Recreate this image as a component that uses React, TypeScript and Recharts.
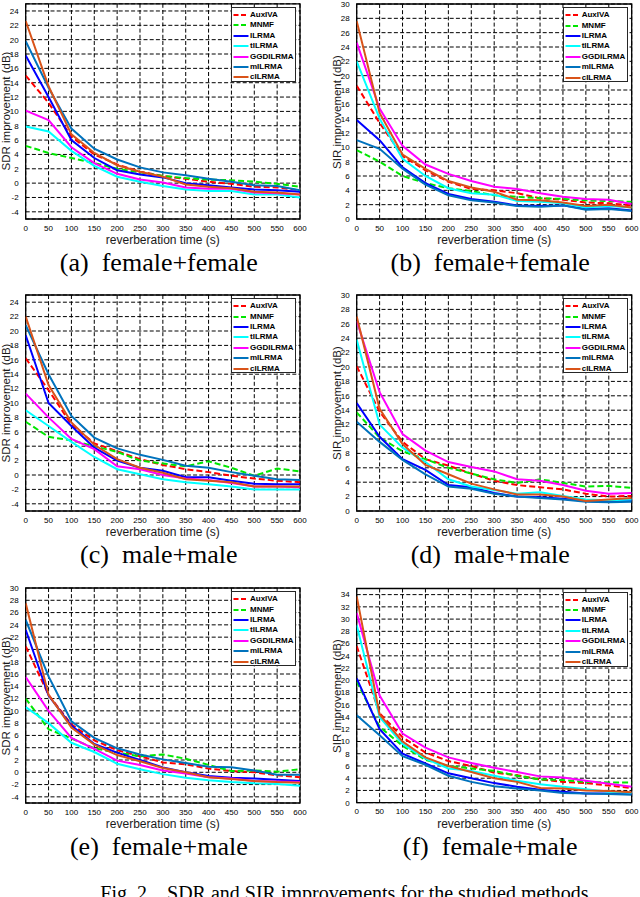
import React from 'react';
import { LineChart, Line, XAxis, YAxis, CartesianGrid, ReferenceArea } from 'recharts';

// ---------- data ----------
const times = [0, 50, 100, 150, 200, 250, 300, 350, 400, 450, 500, 550, 600];
const methods = ['AuxIVA', 'MNMF', 'ILRMA', 'tILRMA', 'GGDILRMA', 'mILRMA', 'cILRMA'];
const methodColors = ['#ff0000', '#00e600', '#0000ff', '#00ffff', '#ff00ff', '#0072bd', '#d95319'];
const methodDashes = ['6 3', '6 3', '', '', '', '', ''];

const sdrTicks = [-4, -2, 0, 2, 4, 6, 8, 10, 12, 14, 16, 18, 20, 22, 24];
const sdrTicksE = [-4, -2, 0, 2, 4, 6, 8, 10, 12, 14, 16, 18, 20, 22, 24, 26, 28, 30];
const sirTicks = [0, 2, 4, 6, 8, 10, 12, 14, 16, 18, 20, 22, 24, 26, 28, 30];
const sirTicksF = [0, 2, 4, 6, 8, 10, 12, 14, 16, 18, 20, 22, 24, 26, 28, 30, 32, 34];

// (a) SDR female+female
const aAuxIVA = [15.0, 11.2, 6.5, 4.0, 2.6, 1.6, 1.0, 0.6, 0.2, -0.1, -0.5, -0.6, -1.0];
const aMNMF = [5.2, 4.2, 3.5, 2.8, 2.0, 1.5, 1.0, 0.7, 0.5, 0.4, 0.2, -0.1, -0.5];
const aILRMA = [17.8, 12.0, 6.0, 3.5, 1.8, 1.2, 0.8, 0.0, -0.3, -0.6, -0.9, -1.0, -1.2];
const atILRMA = [7.9, 7.2, 4.5, 2.4, 0.9, 0.2, -0.4, -0.9, -1.1, -1.1, -1.6, -1.6, -2.0];
const aGGDILRMA = [10.1, 8.8, 5.0, 2.8, 1.3, 0.5, 0.1, -0.6, -0.8, -0.8, -1.3, -1.4, -1.6];
const amILRMA = [19.8, 13.3, 7.6, 4.8, 3.3, 2.2, 1.5, 1.1, 0.6, 0.2, -0.3, -0.4, -1.0];
const acILRMA = [22.6, 13.5, 6.8, 4.2, 2.5, 1.6, 0.9, -0.2, -0.5, -0.7, -1.2, -1.3, -1.6];

// (b) SIR female+female
const bAuxIVA = [18.6, 13.4, 8.8, 6.8, 5.2, 4.2, 4.0, 3.6, 2.9, 2.7, 2.3, 2.2, 1.9];
const bMNMF = [9.6, 8.0, 6.0, 5.0, 4.3, 3.9, 3.3, 3.1, 2.9, 2.8, 2.6, 2.5, 2.4];
const bILRMA = [13.8, 11.0, 7.2, 5.0, 3.5, 2.8, 2.4, 1.9, 1.8, 1.9, 1.4, 1.5, 1.2];
const btILRMA = [22.0, 14.0, 8.4, 6.0, 4.3, 3.6, 3.4, 2.5, 2.4, 2.2, 1.6, 1.8, 1.6];
const bGGDILRMA = [24.6, 15.4, 10.2, 7.6, 6.3, 5.3, 4.5, 4.2, 3.6, 3.1, 2.8, 2.7, 2.1];
const bmILRMA = [11.0, 9.8, 7.0, 4.8, 3.3, 2.6, 2.3, 1.8, 1.7, 1.9, 1.3, 1.4, 1.1];
const bcILRMA = [27.6, 14.8, 9.0, 7.0, 5.3, 4.4, 3.8, 2.7, 2.6, 2.3, 1.8, 2.0, 1.6];

// (c) SDR male+male
const cAuxIVA = [16.2, 11.8, 7.0, 4.4, 3.3, 2.2, 1.4, 0.8, 0.4, -0.1, -0.5, -0.8, -1.0];
const cMNMF = [7.4, 5.3, 4.8, 4.0, 3.2, 2.0, 1.6, 1.2, 1.9, 1.0, -0.1, 0.9, 0.5];
const cILRMA = [19.4, 10.0, 6.8, 3.8, 2.0, 1.0, 0.6, -0.3, -0.3, -0.8, -1.2, -1.3, -1.3];
const ctILRMA = [9.0, 6.8, 4.6, 2.5, 0.8, 0.1, -0.6, -1.0, -1.3, -1.6, -2.0, -2.0, -2.0];
const cGGDILRMA = [11.3, 8.0, 5.0, 3.6, 1.2, 0.8, 0.0, -0.5, -0.7, -1.1, -1.6, -1.6, -1.7];
const cmILRMA = [20.8, 14.0, 8.2, 5.2, 3.7, 2.8, 2.1, 1.3, 1.0, 0.4, -0.1, -0.6, -0.7];
const ccILRMA = [22.0, 12.5, 7.3, 4.2, 2.2, 1.0, 0.3, -0.6, -0.8, -1.0, -1.6, -1.6, -1.6];

// (d) SIR male+male
const dAuxIVA = [20.1, 13.8, 9.6, 7.2, 6.3, 5.2, 4.2, 3.6, 3.3, 3.0, 2.4, 2.0, 2.1];
const dMNMF = [13.7, 10.2, 8.3, 7.2, 6.0, 5.2, 4.4, 3.9, 4.4, 3.9, 3.4, 3.5, 3.2];
const dILRMA = [15.0, 10.3, 7.2, 5.7, 3.6, 3.3, 2.5, 2.0, 1.9, 1.7, 1.4, 1.3, 1.5];
const dtILRMA = [23.8, 12.0, 8.8, 6.8, 4.4, 3.4, 2.9, 2.4, 2.6, 2.1, 1.6, 1.5, 1.6];
const dGGDILRMA = [26.4, 16.5, 10.7, 8.4, 6.8, 6.1, 5.5, 4.4, 4.2, 3.6, 2.8, 2.4, 2.5];
const dmILRMA = [12.4, 9.6, 7.1, 5.1, 3.4, 3.1, 2.4, 2.0, 1.8, 1.6, 1.3, 1.2, 1.3];
const dcILRMA = [27.0, 14.2, 9.3, 6.4, 5.1, 3.8, 3.0, 2.3, 2.3, 2.0, 1.4, 1.6, 1.8];

// (e) SDR female+male
const eAuxIVA = [20.5, 12.6, 7.8, 5.2, 3.6, 2.6, 1.6, 1.3, 0.6, 0.2, 0.0, -0.5, -0.8];
const eMNMF = [12.0, 7.0, 5.5, 3.9, 3.2, 2.6, 2.9, 2.2, 1.2, 0.2, 0.3, 0.1, 0.5];
const eILRMA = [23.2, 12.5, 7.6, 4.6, 3.2, 2.0, 0.8, 0.0, -0.6, -0.9, -1.0, -1.2, -1.4];
const etILRMA = [10.6, 8.0, 4.8, 3.3, 1.4, 0.5, -0.3, -0.9, -1.3, -1.6, -1.8, -1.9, -2.2];
const eGGDILRMA = [15.5, 10.0, 5.6, 3.8, 1.9, 1.2, 0.3, -0.2, -0.8, -1.0, -1.4, -1.5, -1.6];
const emILRMA = [24.8, 15.6, 8.3, 5.6, 3.9, 2.9, 2.1, 1.5, 0.9, 0.8, 0.3, -0.4, -0.4];
const ecILRMA = [27.5, 12.6, 7.3, 4.5, 2.8, 1.8, 0.7, 0.0, -0.8, -1.1, -1.4, -1.6, -1.7];

// (f) SIR female+male
const fAuxIVA = [25.6, 14.6, 10.7, 8.2, 6.8, 6.0, 4.9, 4.5, 3.8, 3.4, 3.2, 2.8, 2.4];
const fMNMF = [19.8, 12.4, 9.3, 7.0, 6.0, 5.6, 5.2, 4.4, 3.8, 3.7, 3.4, 3.3, 3.3];
const fILRMA = [20.3, 12.0, 8.0, 6.4, 4.8, 4.0, 3.2, 2.6, 2.1, 1.8, 1.5, 1.5, 1.4];
const ftILRMA = [29.0, 14.0, 9.6, 7.2, 5.6, 5.2, 4.4, 3.6, 3.0, 2.6, 2.2, 1.8, 1.6];
const fGGDILRMA = [31.0, 17.5, 11.3, 9.0, 7.4, 6.5, 5.7, 5.0, 4.3, 4.1, 3.6, 3.1, 2.6];
const fmILRMA = [14.3, 11.0, 7.6, 6.2, 4.4, 3.4, 2.7, 2.3, 2.0, 1.6, 1.5, 1.4, 1.3];
const fcILRMA = [33.7, 14.4, 10.0, 7.4, 6.0, 5.0, 4.0, 3.4, 2.4, 2.3, 2.0, 1.9, 1.7];

// ---------- build ----------
const buildRows = (series: number[][]) =>
  times.map((t, i) => {
    const row: Record<string, number> = { t };
    methods.forEach((m, k) => {
      row[m] = series[k][i];
    });
    return row;
  });

const SANS = '"Liberation Sans", Arial, Helvetica, sans-serif';
const SERIF = '"Liberation Serif", "Times New Roman", Times, serif';

const panels = [
  {
    key: 'a', left: 0, top: 0, x0: 25.7, x1: 300, y0: 3.8, y1: 219,
    domain: [-5, 25], ticks: sdrTicks, yLabel: 'SDR improvement (dB)', caption: '(a)  female+female',
    rows: buildRows([aAuxIVA, aMNMF, aILRMA, atILRMA, aGGDILRMA, amILRMA, acILRMA]),
  },
  {
    key: 'b', left: 320, top: 0, x0: 356.7, x1: 631.7, y0: 4, y1: 219,
    domain: [0, 30], ticks: sirTicks, yLabel: 'SIR improvement (dB)', caption: '(b)  female+female',
    rows: buildRows([bAuxIVA, bMNMF, bILRMA, btILRMA, bGGDILRMA, bmILRMA, bcILRMA]),
  },
  {
    key: 'c', left: 0, top: 290, x0: 25.7, x1: 300, y0: 295, y1: 511,
    domain: [-5, 25], ticks: sdrTicks, yLabel: 'SDR improvement (dB)', caption: '(c)  male+male',
    rows: buildRows([cAuxIVA, cMNMF, cILRMA, ctILRMA, cGGDILRMA, cmILRMA, ccILRMA]),
  },
  {
    key: 'd', left: 320, top: 290, x0: 356.7, x1: 631.7, y0: 295, y1: 511,
    domain: [0, 30], ticks: sirTicks, yLabel: 'SIR improvement (dB)', caption: '(d)  male+male',
    rows: buildRows([dAuxIVA, dMNMF, dILRMA, dtILRMA, dGGDILRMA, dmILRMA, dcILRMA]),
  },
  {
    key: 'e', left: 0, top: 580, x0: 25.7, x1: 300, y0: 588, y1: 803,
    domain: [-5, 30], ticks: sdrTicksE, yLabel: 'SDR improvement (dB)', caption: '(e)  female+male',
    rows: buildRows([eAuxIVA, eMNMF, eILRMA, etILRMA, eGGDILRMA, emILRMA, ecILRMA]),
  },
  {
    key: 'f', left: 320, top: 580, x0: 356.7, x1: 631.7, y0: 588.5, y1: 802.7,
    domain: [0, 35], ticks: sirTicksF, yLabel: 'SIR improvement (dB)', caption: '(f)  female+male',
    rows: buildRows([fAuxIVA, fMNMF, fILRMA, ftILRMA, fGGDILRMA, fmILRMA, fcILRMA]),
  },
];

const Y_AXIS_W = 24;
const X_AXIS_H = 20;

function LegendBox({ left, top }: { left: number; top: number }) {
  return (
    <div
      style={{
        position: 'absolute', left, top, width: 65, height: 75, boxSizing: 'border-box',
        border: '1px solid #262626', background: '#fff', paddingTop: 2,
      }}
    >
      {methods.map((m, k) => (
        <div key={m} style={{ display: 'flex', alignItems: 'center', height: 10.4 }}>
          <svg width={18} height={10} style={{ display: 'block', flex: 'none' }}>
            <line x1={1.5} y1={5} x2={16.5} y2={5} stroke={methodColors[k]} strokeWidth={2}
              strokeDasharray={methodDashes[k] ? '5 2.5' : undefined} />
          </svg>
          <span style={{ fontFamily: SANS, fontSize: 8, fontWeight: 'bold', color: '#000', lineHeight: '10px', whiteSpace: 'nowrap' }}>{m}</span>
        </div>
      ))}
    </div>
  );
}

function Panel(p: (typeof panels)[number]) {
  const width = 320;
  const height = p.y1 - p.top + X_AXIS_H + 2;
  const margin = {
    top: p.y0 - p.top,
    bottom: 2,
    left: p.x0 - p.left - Y_AXIS_W,
    right: p.left + width - p.x1,
  };
  const tickStyle = { fontSize: 8, fill: '#000', fontFamily: SANS };
  const cx = (p.x0 + p.x1) / 2;
  const cy = (p.y0 + p.y1) / 2;
  return (
    <>
      <div style={{ position: 'absolute', left: p.left, top: p.top }}>
        <LineChart width={width} height={height} data={p.rows} margin={margin}>
          <CartesianGrid stroke="#000" strokeWidth={1} strokeDasharray="4 2.2" />
          <XAxis
            dataKey="t" type="number" domain={[0, 600]} ticks={times} height={X_AXIS_H}
            tick={tickStyle} tickLine={false} axisLine={false} tickSize={5} tickMargin={1}
            interval={0} allowDataOverflow
          />
          <YAxis
            type="number" domain={p.domain} ticks={p.ticks} width={Y_AXIS_W}
            tick={tickStyle} tickLine={false} axisLine={false} tickSize={5} tickMargin={2}
            interval={0} allowDataOverflow
          />
          <ReferenceArea
            x1={0} x2={600} y1={p.domain[0]} y2={p.domain[1]}
            fill="none" stroke="#000" strokeWidth={1.3} ifOverflow="visible"
          />
          {methods.map((m, k) => (
            <Line
              key={m} type="linear" dataKey={m} stroke={methodColors[k]} strokeWidth={2}
              strokeDasharray={methodDashes[k] || undefined}
              dot={false} activeDot={false} isAnimationActive={false}
            />
          ))}
        </LineChart>
      </div>
      <LegendBox left={p.x1 - 4 - 65} top={p.y0 + 3} />
      <div
        style={{
          position: 'absolute', left: cx, top: p.y1 + 21, transform: 'translate(-50%, -50%)',
          fontFamily: SANS, fontSize: 12, color: '#1a1a1a', whiteSpace: 'nowrap', lineHeight: '12px',
        }}
      >
        reverberation time (s)
      </div>
      <div
        style={{
          position: 'absolute', left: p.x0 - 19.7, top: cy, transform: 'translate(-50%, -50%) rotate(-90deg)',
          fontFamily: SANS, fontSize: 11.5, color: '#1a1a1a', whiteSpace: 'nowrap', lineHeight: '10px',
        }}
      >
        {p.yLabel}
      </div>
      <div
        style={{
          position: 'absolute', left: cx - 4, top: p.y1 + 57, transform: 'translate(-50%, -100%)',
          fontFamily: SERIF, fontSize: 26, color: '#000', whiteSpace: 'pre', lineHeight: '26px',
        }}
      >
        {p.caption}
      </div>
    </>
  );
}

export default function App() {
  return (
    <div style={{ position: 'absolute', left: 0, top: 0, width: 640, height: 897, background: '#fff', overflow: 'hidden' }}>
      {panels.map((p) => (
        <Panel key={p.key} {...p} />
      ))}
      <div
        style={{
          position: 'absolute', left: 347, top: 903, transform: 'translate(-50%, -100%)',
          fontFamily: SERIF, fontSize: 20, color: '#000', whiteSpace: 'pre', lineHeight: '20px',
        }}
      >
        {'Fig. 2.   SDR and SIR improvements for the studied methods.'}
      </div>
    </div>
  );
}
